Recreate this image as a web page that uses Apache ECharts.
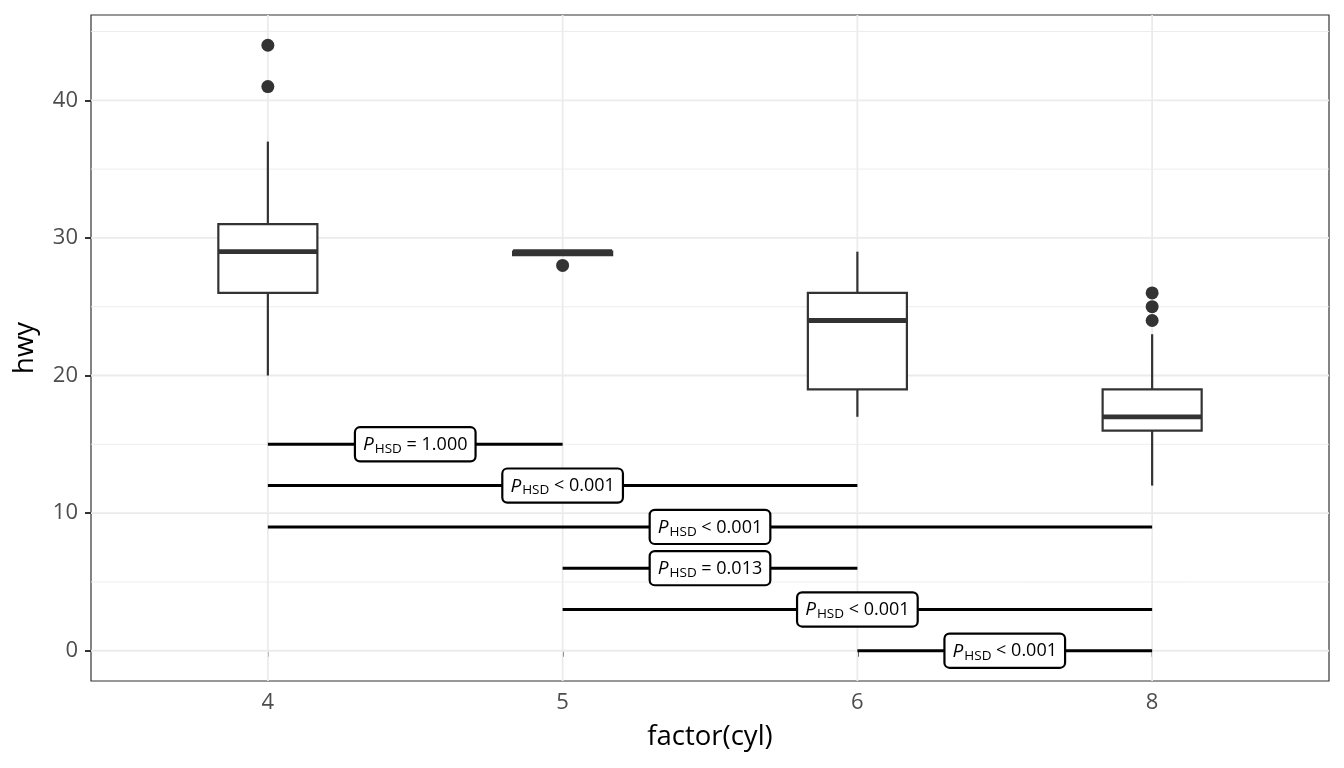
<!DOCTYPE html>
<html>
<head>
<meta charset="utf-8">
<script src="https://cdn.jsdelivr.net/npm/echarts@6/dist/echarts.min.js"></script>
<style>html,body{margin:0;padding:0;background:#fff}#c{width:1344px;height:768px}</style>
</head>
<body>
<div id="c"></div>
<script>
// ---- data ----
const categories = ['4', '5', '6', '8'];
// box stats per category
const boxLow    = [20, 29, 17, 12];
const boxQ1     = [26, 28.75, 19, 16];
const boxMedian = [29, 29, 24, 17];
const boxQ3     = [31, 29, 26, 19];
const boxHigh   = [37, 29, 29, 23];
// outliers: category index, value
const outlierCat = [0, 0, 1, 3, 3, 3];
const outlierVal = [44, 41, 28, 24, 25, 26];
// pairwise comparisons
const hsdFrom = [0, 0, 0, 1, 1, 2];
const hsdTo   = [1, 2, 3, 2, 3, 3];
const hsdY    = [15, 12, 9, 6, 3, 0];
const hsdText = ['= 1.000', '< 0.001', '< 0.001', '= 0.013', '< 0.001', '< 0.001'];
// axis ticks
const yMajor = [0, 10, 20, 30, 40];
const yMinor = [5, 15, 25, 35, 45];
const xTicks = [1, 2, 3, 4];

// ---- build ----
const FONT = 'Open Sans';
const boxData = categories.map((c, i) => [i + 1, boxLow[i], boxQ1[i], boxMedian[i], boxQ3[i], boxHigh[i]]);
const outData = outlierCat.map((c, i) => [c + 1, outlierVal[i]]);
const halfW = 0.168;

// grid line items: [orientation (0 horizontal, 1 vertical), value, major?]
const gridItems = [
  ...yMinor.map(v => [0, v, 0]),
  ...yMajor.map(v => [0, v, 1]),
  ...xTicks.map(v => [1, v, 1])
];

const series = [];
series.push({
  type: 'custom', z: 1, silent: true, data: gridItems,
  encode: { x: -1, y: -1 },
  renderItem: function (params, api) {
    const cs = params.coordSys;
    const o = api.value(0), v = api.value(1), major = api.value(2);
    const style = { stroke: '#EBEBEB', lineWidth: major ? 1.8 : 0.9 };
    if (o === 0) {
      const p = api.coord([1, v]);
      return { type: 'line', shape: { x1: cs.x, y1: p[1], x2: cs.x + cs.width, y2: p[1] }, style: style };
    }
    const p = api.coord([v, 0]);
    return { type: 'line', shape: { x1: p[0], y1: cs.y, x2: p[0], y2: cs.y + cs.height }, style: style };
  }
});
// boxes
series.push({
  type: 'custom', z: 3, data: boxData,
  renderItem: function (params, api) {
    const x = api.value(0);
    const lo = api.coord([x, api.value(1)]);
    const q1 = api.coord([x, api.value(2)]);
    const md = api.coord([x, api.value(3)]);
    const q3 = api.coord([x, api.value(4)]);
    const hi = api.coord([x, api.value(5)]);
    const hw = api.size([halfW, 0])[0];
    const st = { stroke: '#333333', lineWidth: 2.2, fill: null };
    return {
      type: 'group', children: [
        { type: 'line', shape: { x1: lo[0], y1: lo[1], x2: q1[0], y2: q1[1] }, style: st },
        { type: 'line', shape: { x1: q3[0], y1: q3[1], x2: hi[0], y2: hi[1] }, style: st },
        { type: 'rect', shape: { x: q1[0] - hw, y: q3[1], width: 2 * hw, height: q1[1] - q3[1] }, style: { fill: '#fff', stroke: '#333333', lineWidth: 2.2 } },
        { type: 'line', shape: { x1: md[0] - hw, y1: md[1], x2: md[0] + hw, y2: md[1] }, style: { stroke: '#333333', lineWidth: 4.8 } }
      ]
    };
  }
});
// outliers
series.push({
  type: 'scatter', z: 4, data: outData, symbolSize: 13,
  itemStyle: { color: '#333333', opacity: 1 }
});
// hsd lines
hsdY.forEach((y, i) => {
  series.push({
    type: 'line', z: 5, symbol: 'none', silent: true,
    data: [[hsdFrom[i] + 1, y], [hsdTo[i] + 1, y]],
    lineStyle: { color: '#000', width: 3 }
  });
});
// hsd labels
series.push({
  type: 'custom', z: 8, silent: true,
  data: hsdY.map((y, i) => [(hsdFrom[i] + hsdTo[i]) / 2 + 1, y, i]),
  renderItem: function (params, api) {
    const p = api.coord([api.value(0), api.value(1)]);
    const txt = hsdText[api.value(2)];
    return {
      type: 'text', x: p[0], y: p[1], z2: 100,
      style: {
        text: '{p|P}{s|HSD}{t| ' + txt + '}',
        align: 'center', verticalAlign: 'middle',
        backgroundColor: '#fff', borderColor: '#000', borderWidth: 2.2, borderRadius: 4,
        padding: [5, 7, 4, 7],
        rich: {
          p: { fontFamily: FONT, fontStyle: 'italic', fontSize: 19, fill: '#000', lineHeight: 23 },
          s: { fontFamily: FONT, fontSize: 13.5, fill: '#000', lineHeight: 15, verticalAlign: 'bottom', padding: [0, 0, 0, 1] },
          t: { fontFamily: FONT, fontSize: 18, fill: '#000', lineHeight: 23 }
        }
      }
    };
  }
});

const chart = echarts.init(document.getElementById('c'), null, { renderer: 'canvas' });
chart.setOption({
  animation: false,
  backgroundColor: '#fff',
  grid: { left: 91, right: 15, top: 15, bottom: 87, show: true, borderColor: '#333333', borderWidth: 1.2, backgroundColor: 'transparent' },
  xAxis: {
    type: 'value', min: 0.4, max: 4.6,
    name: 'factor(cyl)', nameLocation: 'middle', nameGap: 42,
    nameTextStyle: { fontFamily: FONT, fontSize: 27.5, color: '#000' },
    axisLine: { show: false },
    splitLine: { show: false },
    axisTick: { show: true, customValues: xTicks, length: 6, lineStyle: { color: '#333333', width: 2 } },
    axisLabel: { customValues: xTicks, formatter: v => categories[Math.round(v) - 1], margin: 11, fontFamily: FONT, fontSize: 22, color: '#4D4D4D' }
  },
  yAxis: {
    type: 'value', min: -2.2, max: 46.2,
    name: 'hwy', nameLocation: 'middle', nameGap: 52, nameRotate: 90,
    nameTextStyle: { fontFamily: FONT, fontSize: 27.5, color: '#000' },
    axisLine: { show: false },
    splitLine: { show: false },
    axisTick: { show: true, customValues: yMajor, length: 6, lineStyle: { color: '#333333', width: 2 } },
    axisLabel: { customValues: yMajor, margin: 13, fontFamily: FONT, fontSize: 22, color: '#4D4D4D' }
  },
  series: series
});
</script>
</body>
</html>
